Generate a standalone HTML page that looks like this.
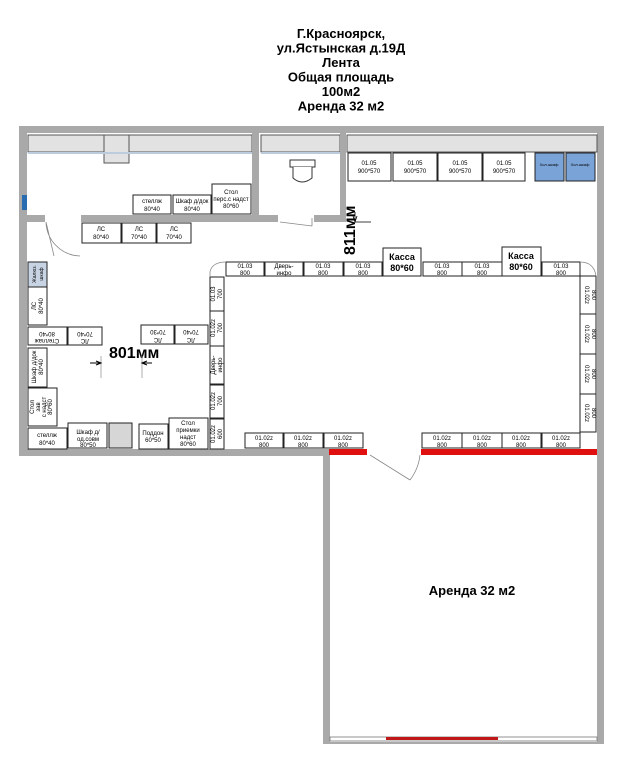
<!DOCTYPE html>
<html><head><meta charset="utf-8"><style>
html,body{margin:0;padding:0;background:#fff}
svg{display:block}
text{font-family:"Liberation Sans",sans-serif;fill:#000}
.b rect,.f{fill:#fff;stroke:#222;stroke-width:1}
.s{font-size:6px;text-anchor:middle}
.w{fill:#a9a9a9}
.g{fill:#e2e2e2;stroke:#555;stroke-width:1}
</style></head><body>
<svg width="628" height="767" viewBox="0 0 628 767" xmlns="http://www.w3.org/2000/svg">
<g font-weight="bold" font-size="13" text-anchor="middle">
<text x="341" y="38">Г.Красноярск,</text>
<text x="341" y="52.5">ул.Ястынская д.19Д</text>
<text x="341" y="67">Лента</text>
<text x="341" y="81.5">Общая площадь</text>
<text x="341" y="96">100м2</text>
<text x="341" y="110.5">Аренда 32 м2</text>
</g>
<rect class="w" x="19" y="126" width="585" height="7"/>
<rect class="w" x="19" y="126" width="8" height="330"/>
<rect class="w" x="597" y="126" width="7" height="617"/>
<rect class="w" x="19" y="449" width="310" height="7"/>
<rect class="w" x="323" y="449" width="7" height="294"/>
<rect class="g" x="28" y="135" width="76" height="17"/>
<rect class="g" x="104" y="135" width="25" height="28"/>
<rect class="g" x="129" y="135" width="123" height="17"/>
<rect class="g" x="261" y="135" width="79" height="17"/>
<rect class="g" x="347" y="135" width="250" height="17"/>
<line x1="28" y1="153" x2="252" y2="153" stroke="#bcd" stroke-width="2"/>
<line x1="261" y1="153" x2="340" y2="153" stroke="#bcd" stroke-width="2"/>
<rect class="w" x="252" y="133" width="7" height="89"/>
<rect class="w" x="340" y="133" width="6" height="85"/>
<rect class="w" x="27" y="215" width="18" height="7"/>
<rect class="w" x="81" y="215" width="197" height="7"/>
<rect class="w" x="314" y="215" width="32" height="7"/>
<rect x="22" y="195" width="5" height="15" fill="#2a6cb0"/>
<path d="M46 222 L54 256 M46 222 A35 35 0 0 0 80 256" fill="none" stroke="#888" stroke-width="0.8"/>
<path d="M280 222 L312 226 M312 218 L312 226" fill="none" stroke="#888" stroke-width="0.8"/>
<path d="M370 455 L410 480 M420 455 A50 50 0 0 1 410 480" fill="none" stroke="#888" stroke-width="0.8"/>
<rect x="290" y="160" width="25" height="7" fill="#fff" stroke="#333"/>
<path d="M293 167 L293 178 Q302 186 312 178 L312 167" fill="#fff" stroke="#333"/>
<rect x="329" y="449" width="38" height="6" fill="#e01010"/>
<rect x="421" y="449" width="176" height="6" fill="#e01010"/>
<rect x="330" y="737" width="267" height="4" fill="#fff" stroke="#777" stroke-width="0.8"/>
<rect x="386" y="737" width="112" height="3" fill="#c01818"/>
<rect class="w" x="323" y="742" width="281" height="2"/>
<g class="b">
<rect x="133" y="195" width="38" height="19"/><rect x="173" y="195" width="38" height="19"/><rect x="212" y="184" width="39" height="30"/>
<rect x="82" y="223" width="39" height="20"/><rect x="122" y="223" width="34" height="20"/><rect x="157" y="223" width="34" height="20"/>
<rect x="348" y="153" width="43" height="28"/><rect x="393" y="153" width="44" height="28"/><rect x="438" y="153" width="44" height="28"/><rect x="483" y="153" width="42" height="28"/>
<rect x="535" y="153" width="29" height="28" style="fill:#7aa3d8"/><rect x="566" y="153" width="29" height="28" style="fill:#7aa3d8"/>
<rect x="226" y="262" width="38" height="14"/><rect x="265" y="262" width="38" height="14"/><rect x="304" y="262" width="39" height="14"/><rect x="344" y="262" width="38" height="14"/>
<rect x="383" y="248" width="38" height="28"/><rect x="423" y="262" width="39" height="14"/><rect x="462" y="262" width="40" height="14"/><rect x="502" y="247" width="39" height="29"/><rect x="542" y="262" width="38" height="14"/>
<rect x="210" y="277" width="14" height="34"/><rect x="210" y="311" width="14" height="35"/><rect x="210" y="346" width="14" height="38"/><rect x="210" y="385" width="14" height="33"/><rect x="210" y="419" width="14" height="30"/>
<rect x="580" y="276" width="16" height="38"/><rect x="580" y="314" width="16" height="40"/><rect x="580" y="354" width="16" height="40"/><rect x="580" y="394" width="16" height="38"/>
<rect x="245" y="433" width="38" height="15"/><rect x="284" y="433" width="39" height="15"/><rect x="324" y="433" width="39" height="15"/>
<rect x="422" y="433" width="40" height="15"/><rect x="462" y="433" width="40" height="15"/><rect x="502" y="433" width="39" height="15"/><rect x="542" y="433" width="38" height="15"/>
<rect x="28" y="262" width="19" height="25" style="fill:#c8d4e4"/><rect x="28" y="287" width="19" height="38"/><rect x="28" y="327" width="39" height="18"/><rect x="68" y="327" width="34" height="18"/>
<rect x="28" y="348" width="19" height="39"/><rect x="28" y="388" width="29" height="38"/><rect x="28" y="428" width="39" height="21"/><rect x="68" y="423" width="39" height="25"/>
<rect x="109" y="423" width="23" height="25" style="fill:#d6d6d6"/><rect x="139" y="424" width="29" height="25"/><rect x="169" y="418" width="39" height="31"/>
<rect x="141" y="325" width="33" height="19"/><rect x="175" y="325" width="33" height="19"/>
</g>
<path d="M210 277 L210 272 Q212 262 226 262 M580 262 Q594 262 596 276" fill="none" stroke="#888" stroke-width="0.8"/>
<g class="s">
<text x="152" y="203">стеллж</text><text x="152" y="211">80*40</text>
<text x="192" y="203">Шкаф д/док</text><text x="192" y="211">80*40</text>
<text x="231" y="194">Стол</text><text x="231" y="201">перс.с надст</text><text x="231" y="208">80*60</text>
<text x="101" y="231">ЛС</text><text x="101" y="239">80*40</text><text x="139" y="231">ЛС</text><text x="139" y="239">70*40</text><text x="174" y="231">ЛС</text><text x="174" y="239">70*40</text>
<text x="369" y="165">01.05</text><text x="369" y="173">900*570</text><text x="415" y="165">01.05</text><text x="415" y="173">900*570</text><text x="460" y="165">01.05</text><text x="460" y="173">900*570</text><text x="504" y="165">01.05</text><text x="504" y="173">900*570</text>
<text x="549" y="166" font-size="4">Хол.шкаф</text><text x="580" y="166" font-size="4">Хол.шкаф</text>
<text x="245" y="268">01.03</text><text x="245" y="275">800</text><text x="284" y="268">Дверь-</text><text x="284" y="275">инфо</text><text x="323" y="268">01.03</text><text x="323" y="275">800</text><text x="363" y="268">01.03</text><text x="363" y="275">800</text>
<text x="442" y="268">01.03</text><text x="442" y="275">800</text><text x="482" y="268">01.03</text><text x="482" y="275">800</text><text x="561" y="268">01.03</text><text x="561" y="275">800</text>
<text x="264" y="440">01.02z</text><text x="264" y="447">800</text><text x="303" y="440">01.02z</text><text x="303" y="447">800</text><text x="343" y="440">01.02z</text><text x="343" y="447">800</text>
<text x="442" y="440">01.02z</text><text x="442" y="447">800</text><text x="482" y="440">01.02z</text><text x="482" y="447">800</text><text x="521" y="440">01.02z</text><text x="521" y="447">800</text><text x="561" y="440">01.02z</text><text x="561" y="447">800</text>
<text x="88" y="434">Шкаф д/</text><text x="88" y="441">од.совм</text><text x="88" y="447">80*50</text>
<text x="153" y="435">Поддон</text><text x="153" y="442">60*50</text>
<text x="188" y="425">Стол</text><text x="188" y="432">приемки</text><text x="188" y="439">надст</text><text x="188" y="446">80*60</text>
<text x="47" y="437">стеллж</text><text x="47" y="445">80*40</text>
</g>
<g font-weight="bold" font-size="9" text-anchor="middle"><text x="402" y="260">Касса</text><text x="402" y="271">80*60</text><text x="521" y="259">Касса</text><text x="521" y="270">80*60</text></g>
<g class="s">
<text transform="translate(215,294) rotate(-90)">01.03</text><text transform="translate(222,294) rotate(-90)">700</text>
<text transform="translate(215,328) rotate(-90)">01.02z</text><text transform="translate(222,328) rotate(-90)">700</text>
<text transform="translate(215,365) rotate(-90)">Дверь-</text><text transform="translate(222,365) rotate(-90)">инфо</text>
<text transform="translate(215,401) rotate(-90)">01.02z</text><text transform="translate(222,401) rotate(-90)">700</text>
<text transform="translate(215,434) rotate(-90)">01.02z</text><text transform="translate(222,434) rotate(-90)">600</text>
<text transform="translate(585,295) rotate(90)">01.02z</text><text transform="translate(592,295) rotate(90)">800</text>
<text transform="translate(585,334) rotate(90)">01.02z</text><text transform="translate(592,334) rotate(90)">800</text>
<text transform="translate(585,374) rotate(90)">01.02z</text><text transform="translate(592,374) rotate(90)">800</text>
<text transform="translate(585,413) rotate(90)">01.02z</text><text transform="translate(592,413) rotate(90)">800</text>
<text transform="translate(36,274) rotate(-90)" font-size="5">Жалюз.</text><text transform="translate(43,274) rotate(-90)" font-size="5">шкаф</text>
<text transform="translate(36,306) rotate(-90)">ЛС</text><text transform="translate(43,306) rotate(-90)">80*40</text>
<text transform="translate(47,332) rotate(180)">80*40</text><text transform="translate(47,339) rotate(180)">Стеллаж</text>
<text transform="translate(85,332) rotate(180)">70*40</text><text transform="translate(85,339) rotate(180)">ЛС</text>
<text transform="translate(158,330) rotate(180)">70*30</text><text transform="translate(158,338) rotate(180)">ЛС</text>
<text transform="translate(191,330) rotate(180)">70*40</text><text transform="translate(191,338) rotate(180)">ЛС</text>
<text transform="translate(36,367) rotate(-90)">Шкаф д/док</text><text transform="translate(43,367) rotate(-90)">80*40</text>
<text transform="translate(34,407) rotate(-90)">Стол</text><text transform="translate(40,407) rotate(-90)">зав</text><text transform="translate(46,407) rotate(-90)">с надст</text><text transform="translate(52,407) rotate(-90)">80*60</text>
</g>
<text x="109" y="358" font-size="16" font-weight="bold">801мм</text>
<line x1="101" y1="356" x2="101" y2="378" stroke="#999" stroke-width="0.8"/>
<line x1="142" y1="356" x2="142" y2="378" stroke="#999" stroke-width="0.8"/>
<path d="M90 363 L101 363 M96 361 L101 363 L96 365 M142 363 L152 363 M147 361 L142 363 L147 365" stroke="#000" stroke-width="1" fill="none"/>
<text transform="translate(355,255) rotate(-90)" font-size="16" font-weight="bold">811мм</text>
<path d="M355 212 L355 222 M353 216 L355 222 L357 216 M355 222 L371 222" stroke="#000" stroke-width="0.8" fill="none"/>
<text x="472" y="595" font-size="13" font-weight="bold" text-anchor="middle">Аренда 32 м2</text>
</svg>
</body></html>
